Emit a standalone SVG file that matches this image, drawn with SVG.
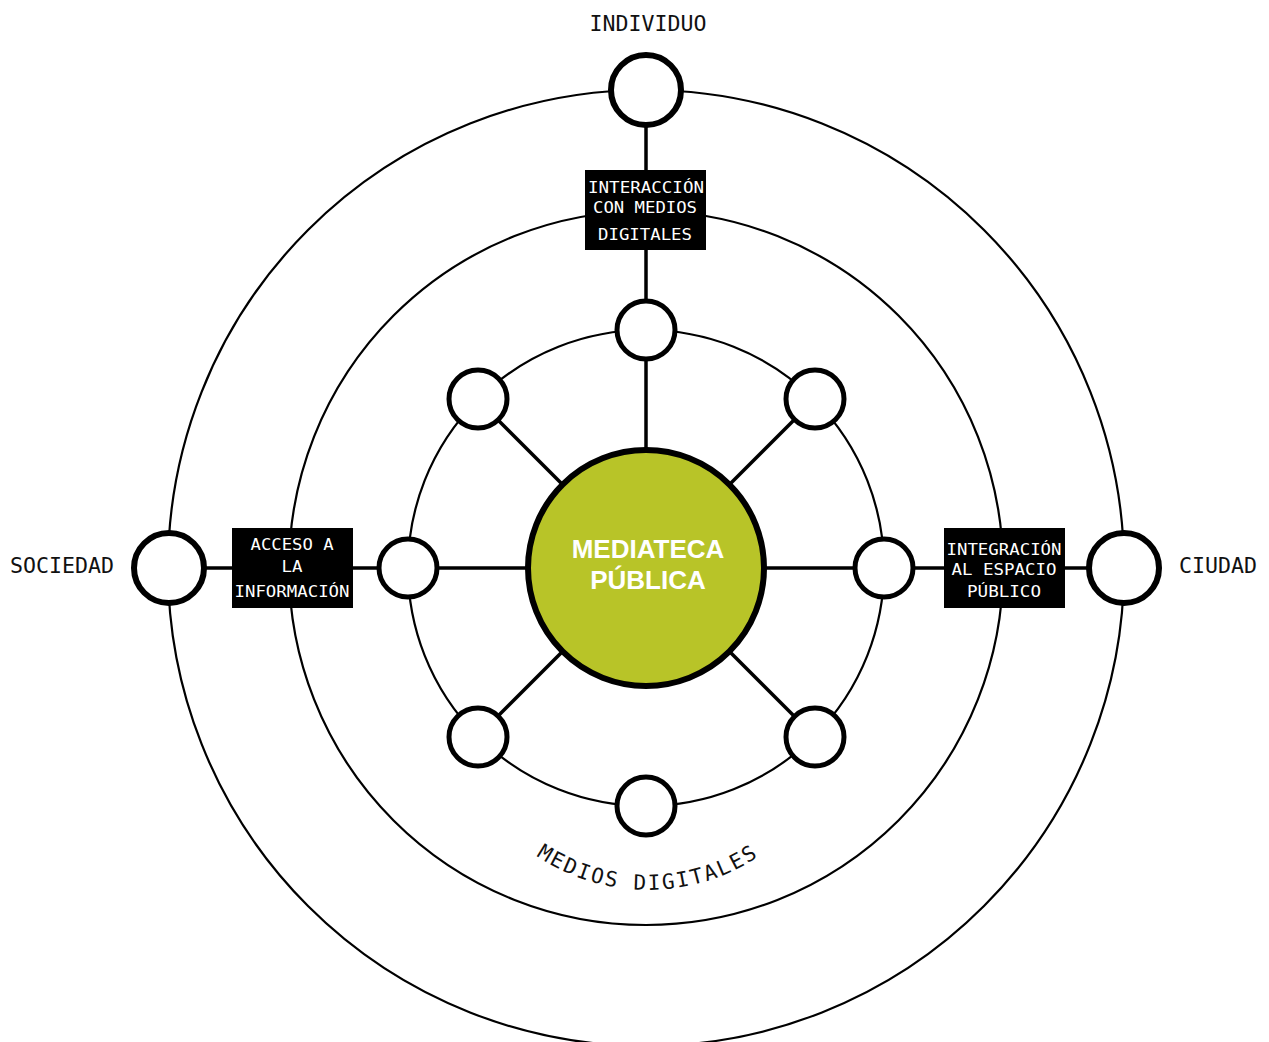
<svg xmlns="http://www.w3.org/2000/svg" width="1269" height="1042" viewBox="0 0 1269 1042">
<style>
.ring{fill:none;stroke:#000;stroke-width:2.2}
.spoke{stroke:#000;stroke-width:3.5;fill:none}
.onode{fill:#fff;stroke:#000;stroke-width:6}
.inode{fill:#fff;stroke:#000;stroke-width:5}
.box{fill:#000}
.lbl{font-family:"DejaVu Sans Mono","Liberation Mono",monospace;font-size:22px;fill:#111;text-anchor:middle}
.btxt{font-family:"DejaVu Sans Mono","Liberation Mono",monospace;font-size:16px;fill:#fff;text-anchor:middle}
.ctxt{font-family:"Liberation Sans",Arial,sans-serif;font-weight:bold;font-size:26px;fill:#fff;text-anchor:middle}
</style>
<defs>
<path id="arc" d="M 448 690 A 200 200 0 0 0 848 690"/>
</defs>
<rect width="1269" height="1042" fill="#fff"/>
<g id="rings">
<circle class="ring" cx="646" cy="568" r="478"/>
<circle class="ring" cx="646" cy="568" r="357"/>
<circle class="ring" cx="646" cy="568" r="238"/>
</g>
<g id="connectors">
<line class="spoke" x1="646" y1="90" x2="646" y2="568"/>
<line class="spoke" x1="169" y1="568" x2="1124" y2="568"/>
<line class="spoke" x1="478" y1="400" x2="814" y2="736"/>
<line class="spoke" x1="814" y1="400" x2="478" y2="736"/>
</g>
<g id="outer-nodes">
<circle id="n-individuo" class="onode" cx="646" cy="90" r="35"/>
<circle id="n-sociedad" class="onode" cx="169" cy="568" r="35"/>
<circle id="n-ciudad" class="onode" cx="1124" cy="568" r="35"/>
</g>
<g id="inner-nodes">
<circle id="i-n" class="inode" cx="646" cy="330" r="29"/>
<circle id="i-s" class="inode" cx="646" cy="806" r="29"/>
<circle id="i-w" class="inode" cx="408" cy="568" r="29"/>
<circle id="i-e" class="inode" cx="884" cy="568" r="29"/>
<circle id="i-nw" class="inode" cx="478" cy="399" r="29"/>
<circle id="i-ne" class="inode" cx="815" cy="399" r="29"/>
<circle id="i-sw" class="inode" cx="478" cy="737" r="29"/>
<circle id="i-se" class="inode" cx="815" cy="737" r="29"/>
</g>
<g id="center">
<circle cx="646" cy="568" r="118" fill="#b8c428" stroke="#000" stroke-width="6"/>
<text class="ctxt" x="648" y="558">MEDIATECA</text>
<text class="ctxt" x="648" y="589">PÚBLICA</text>
</g>
<g id="box-top">
<rect class="box" x="585" y="170" width="121" height="80"/>
<text class="btxt" x="646" y="193" textLength="116" lengthAdjust="spacingAndGlyphs">INTERACCIÓN</text>
<text class="btxt" x="645" y="213" textLength="104" lengthAdjust="spacingAndGlyphs">CON MEDIOS</text>
<text class="btxt" x="645" y="240" textLength="94" lengthAdjust="spacingAndGlyphs">DIGITALES</text>
</g>
<g id="box-left">
<rect class="box" x="232" y="528" width="121" height="80"/>
<text class="btxt" x="292" y="550" textLength="83" lengthAdjust="spacingAndGlyphs">ACCESO A</text>
<text class="btxt" x="292" y="572" textLength="21" lengthAdjust="spacingAndGlyphs">LA</text>
<text class="btxt" x="292" y="597" textLength="115" lengthAdjust="spacingAndGlyphs">INFORMACIÓN</text>
</g>
<g id="box-right">
<rect class="box" x="944" y="528" width="121" height="80"/>
<text class="btxt" x="1004" y="555" textLength="115" lengthAdjust="spacingAndGlyphs">INTEGRACIÓN</text>
<text class="btxt" x="1004" y="575" textLength="105" lengthAdjust="spacingAndGlyphs">AL ESPACIO</text>
<text class="btxt" x="1004" y="597" textLength="74" lengthAdjust="spacingAndGlyphs">PÚBLICO</text>
</g>
<g id="labels">
<text class="lbl" x="648" y="31" textLength="117" lengthAdjust="spacingAndGlyphs">INDIVIDUO</text>
<text class="lbl" x="62" y="573" textLength="104" lengthAdjust="spacingAndGlyphs">SOCIEDAD</text>
<text class="lbl" x="1218" y="573" textLength="78" lengthAdjust="spacingAndGlyphs">CIUDAD</text>
<text class="lbl" style="font-size:21px;letter-spacing:2.2px"><textPath href="#arc" startOffset="50%">MEDIOS DIGITALES</textPath></text>
</g>
</svg>
